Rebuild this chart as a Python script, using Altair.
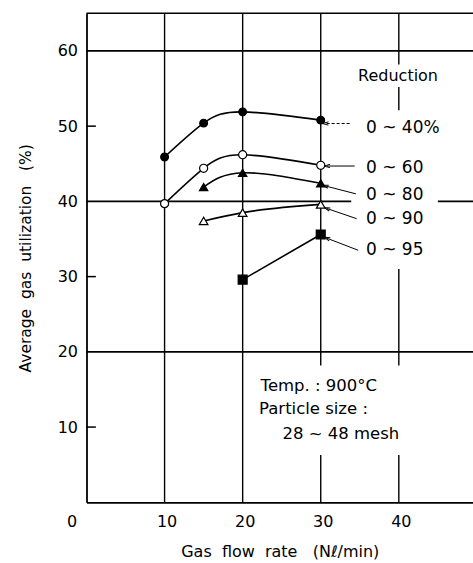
import altair as alt
import pandas as pd

# ---------------- data ----------------
SERIES = ["0 ~ 40%", "0 ~ 60", "0 ~ 80", "0 ~ 90", "0 ~ 95"]
FLOW_40 = [10, 15, 20, 30]
UTIL_40 = [45.9, 50.4, 51.9, 50.8]
FLOW_60 = [10, 15, 20, 30]
UTIL_60 = [39.7, 44.4, 46.2, 44.8]
FLOW_80 = [15, 20, 30]
UTIL_80 = [41.9, 43.8, 42.4]
FLOW_90 = [15, 20, 30]
UTIL_90 = [37.4, 38.5, 39.6]
FLOW_95 = [20, 30]
UTIL_95 = [29.6, 35.6]

X_TICKS = [0, 10, 20, 30, 40]
Y_TICKS = [10, 20, 30, 40, 50, 60]
GRID_X = [10, 20, 30, 40]
GRID_Y = [20, 40, 60]
MINOR_Y = [10, 30, 50]
MINOR_LEN = 1.2

# label annotations (data coordinates)
LABEL_X = [35.8, 35.8, 35.8, 35.8, 35.8]
LABEL_Y = [49.8, 44.45, 40.8, 37.7, 33.5]
ARROW_TIP_X = [30.6, 30.8, 30.6, 30.8, 30.8]
ARROW_TIP_Y = [50.35, 44.7, 42.05, 39.05, 35.1]
ARROW_TAIL_X = [33.7, 34.35, 34.5, 34.6, 34.8]
ARROW_TAIL_Y = [50.35, 44.7, 41.0, 37.7, 33.5]
ARROW_ANGLE = [0, 0, 15, 19, 21]
ARROW_DASHED = [True, False, False, False, False]

NOTE_TEXT = ["Temp. : 900°C", "Particle size :", "28 ~ 48 mesh"]
NOTE_X = [22.3, 22.1, 25.1]
NOTE_Y = [15.4, 12.35, 9.1]
HEADER_TEXT = ["Reduction"]
HEADER_X = [39.9]
HEADER_Y = [56.6]

# white masks where the printed grid is interrupted by text
MASK_X1 = [36.3, 33.9, 21.6]
MASK_X2 = [43.5, 45.0, 41.5]
MASK_Y1 = [55.2, 31.0, 6.3]
MASK_Y2 = [58.2, 52.1, 18.2]

X_MAX = 49.5
Y_MAX = 65
NB = "\u00a0"
X_TITLE = f"Gas{NB}{NB}flow{NB}{NB}rate{NB}{NB}{NB}(Nℓ/min)"
Y_TITLE = f"Average{NB}{NB}gas{NB}{NB}utilization{NB}{NB}{NB}(%)"

FONT = "DejaVu Sans"

# ---------------- tables ----------------
rows = []
for name, xs, ys in zip(SERIES,
                        [FLOW_40, FLOW_60, FLOW_80, FLOW_90, FLOW_95],
                        [UTIL_40, UTIL_60, UTIL_80, UTIL_90, UTIL_95]):
    for a, b in zip(xs, ys):
        rows.append({"x": a, "y": b, "series": name})
data = pd.DataFrame(rows)

labels = pd.DataFrame({"x": LABEL_X, "y": LABEL_Y, "text": SERIES})
arrows = pd.DataFrame({"x": ARROW_TAIL_X, "y": ARROW_TAIL_Y,
                       "x2": ARROW_TIP_X, "y2": ARROW_TIP_Y,
                       "angle": ARROW_ANGLE, "dashed": ARROW_DASHED})
notes = pd.DataFrame({"x": NOTE_X, "y": NOTE_Y, "text": NOTE_TEXT})
header = pd.DataFrame({"x": HEADER_X, "y": HEADER_Y, "text": HEADER_TEXT})
masks = pd.DataFrame({"x": MASK_X1, "x2": MASK_X2, "y": MASK_Y1, "y2": MASK_Y2})
gx = pd.DataFrame({"x": GRID_X})
gy = pd.DataFrame({"y": GRID_Y + [Y_MAX]})
# short inward ticks as tiny rectangles
minor = pd.DataFrame({
    "y": [v - 0.1 for v in MINOR_Y],
    "y2": [v + 0.1 for v in MINOR_Y],
    "x": [0.0] * len(MINOR_Y),
    "x2": [MINOR_LEN] * len(MINOR_Y),
})

XS = alt.Scale(domain=[0, X_MAX], nice=False, zero=False)
YS = alt.Scale(domain=[0, Y_MAX], nice=False, zero=False)

XAX = alt.Axis(values=X_TICKS, ticks=False, grid=False, domainColor="black",
               domainWidth=1.8, labelFont=FONT, labelFontSize=16, labelColor="black",
               labelPadding=11, labelAngle=0,
               labelOffset={"condition": {"test": "datum.value === 0", "value": -20}, "value": 2},
               title=X_TITLE, titleFont=FONT, titleFontSize=16,
               titleFontWeight="normal", titleColor="black", titlePadding=14)
YAX = alt.Axis(values=Y_TICKS, ticks=False, grid=False, domainColor="black",
               domainWidth=1.8, labelFont=FONT, labelFontSize=16, labelColor="black",
               labelPadding=9, title=Y_TITLE, titleFont=FONT,
               titleFontSize=15.5, titleFontWeight="normal", titleColor="black",
               titlePadding=24)


def X(f="x"):
    return alt.X(f + ":Q", scale=XS, axis=XAX)


def Y(f="y"):
    return alt.Y(f + ":Q", scale=YS, axis=YAX)


grid_v = alt.Chart(gx).mark_rule(color="black", strokeWidth=1.4).encode(x=X())
grid_h = alt.Chart(gy).mark_rule(color="black", strokeWidth=1.6).encode(y=Y())
minor_t = alt.Chart(minor).mark_rect(color="black", opacity=1).encode(
    x=X(), x2="x2:Q", y=Y(), y2="y2:Q")
mask = alt.Chart(masks).mark_rect(color="white").encode(
    x=X(), x2="x2:Q", y=Y(), y2="y2:Q")

curved = alt.Chart(data).transform_filter(
    alt.FieldOneOfPredicate(field="series", oneOf=SERIES[:3])
).mark_line(color="black", strokeWidth=1.6, interpolate="natural").encode(
    x=X(), y=Y(), detail="series:N")
straight = alt.Chart(data).transform_filter(
    alt.FieldOneOfPredicate(field="series", oneOf=SERIES[3:])
).mark_line(color="black", strokeWidth=1.6, interpolate="monotone").encode(
    x=X(), y=Y(), detail="series:N")

points = alt.Chart(data).mark_point(filled=True, stroke="black", strokeWidth=1.2, opacity=1).encode(
    x=X(), y=Y(),
    shape=alt.Shape("series:N", scale=alt.Scale(
        domain=SERIES, range=["circle", "circle", "triangle-up", "triangle-up", "square"]), legend=None),
    fill=alt.Fill("series:N", scale=alt.Scale(
        domain=SERIES, range=["black", "white", "black", "white", "black"]), legend=None),
    size=alt.Size("series:N", scale=alt.Scale(
        domain=SERIES, range=[60, 80, 50, 60, 55]), legend=None),
)

arrow_solid = alt.Chart(arrows).transform_filter("!datum.dashed").mark_rule(
    color="black", strokeWidth=1.0).encode(x=X(), y=Y(), x2="x2:Q", y2="y2:Q")
arrow_dash = alt.Chart(arrows).transform_filter("datum.dashed").mark_rule(
    color="black", strokeWidth=1.0, strokeDash=[3, 2]).encode(x=X(), y=Y(), x2="x2:Q", y2="y2:Q")
heads = alt.Chart(arrows).mark_point(
    shape="M1,-0.55L-1,0L1,0.55", filled=False, stroke="black", strokeWidth=1.0,
    size=35, opacity=1).encode(x=X("x2"), y=Y("y2"), angle=alt.Angle("angle:Q", scale=None))

label_t = alt.Chart(labels).mark_text(align="left", baseline="middle", font=FONT,
                                      fontSize=17, color="black").encode(
    x=X(), y=Y(), text="text:N")
note_t = alt.Chart(notes).mark_text(align="left", baseline="middle", font=FONT,
                                    fontSize=16.5, color="black").encode(
    x=X(), y=Y(), text="text:N")
head_t = alt.Chart(header).mark_text(align="center", baseline="middle", font=FONT,
                                     fontSize=16, color="black").encode(
    x=X(), y=Y(), text="text:N")

chart = alt.layer(
    grid_v, grid_h, mask, minor_t, curved, straight,
    arrow_solid, arrow_dash, heads, points, label_t, note_t, head_t
).properties(
    width=386.5, height=489,
    padding={"left": 86.5, "top": 13.3, "right": 0, "bottom": 60},
    autosize=alt.AutoSizeParams(type="none"),
    background="white",
).configure_view(stroke=None)

chart.save("out.html", embed_options={"renderer": "svg", "actions": False})
